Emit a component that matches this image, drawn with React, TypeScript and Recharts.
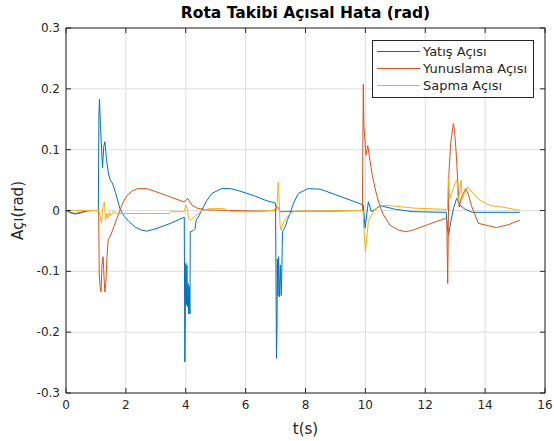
import React from 'react'
import {
  CartesianGrid,
  Legend,
  Line,
  LineChart,
  ReferenceArea,
  XAxis,
  YAxis,
} from 'recharts'

const xTicks = [0, 2, 4, 6, 8, 10, 12, 14, 16]
const yTicks = [-0.3, -0.2, -0.1, 0, 0.1, 0.2, 0.3]
const seriesNames = ['Yatış Açısı', 'Yunuslama Açısı', 'Sapma Açısı']
const seriesColors = ['#0072BD', '#D95319', '#EDB120']

// Yatış açısı (roll)
const tYatis = [
  0, 0.15, 0.3, 0.5, 0.7, 1.08, 1.1, 1.12, 1.15, 1.19, 1.22, 1.26, 1.3, 1.35,
  1.42, 1.48, 1.55, 1.65, 1.8, 1.95, 2.1, 2.3, 2.5, 2.7, 3.0, 3.5, 3.95, 3.97,
  4.0, 4.02, 4.04, 4.06, 4.08, 4.1, 4.12, 4.14, 4.15, 4.25, 4.31, 4.35, 4.45,
  4.53, 4.7, 4.87, 5.2, 5.5, 5.8, 6.3, 6.65, 7.0, 7.03, 7.05, 7.06, 7.08, 7.1,
  7.13, 7.16, 7.19, 7.21, 7.23, 7.32, 7.4, 7.48, 7.6, 7.76, 8.08, 8.5, 9.0,
  9.5, 9.93, 9.99, 10.1, 10.2, 10.3, 10.49, 11.0, 11.6, 12.7, 12.74, 12.78,
  12.85, 12.95, 13.05, 13.16, 13.3, 13.57, 14.2, 15.16,
]
const yatis = [
  0, -0.003, -0.005, -0.003, 0, 0, 0.16, 0.183, 0.14, 0.1, 0.07, 0.105, 0.113,
  0.085, 0.06, 0.05, 0.045, 0.03, 0.003, -0.01, -0.018, -0.027, -0.032, -0.034,
  -0.03, -0.021, -0.011, -0.249, -0.087, -0.155, -0.09, -0.158, -0.12, -0.17,
  -0.125, -0.17, -0.035, -0.033, -0.03, -0.016, -0.008, 0, 0.016, 0.028, 0.036,
  0.036, 0.032, 0.024, 0.017, 0.012, -0.243, -0.19, -0.08, -0.14, -0.076,
  -0.142, -0.09, -0.14, -0.1, -0.035, -0.027, -0.015, -0.005, 0.012, 0.028,
  0.036, 0.035, 0.026, 0.017, 0.009, -0.029, 0.0145, -0.002, 0.001, 0.008,
  0.002, -0.002, -0.003, -0.029, -0.04, -0.02, 0.005, 0.02, 0.009, 0.003,
  -0.003, -0.003, -0.003,
]

// Yunuslama açısı (pitch)
const tYunuslama = [
  0, 0.15, 0.3, 0.5, 0.7, 0.9, 1.09, 1.11, 1.14, 1.17, 1.2, 1.24, 1.27, 1.3,
  1.33, 1.37, 1.41, 1.5, 1.58, 1.7, 1.8, 1.9, 2.03, 2.2, 2.4, 2.7, 3.0, 3.5,
  3.92, 4.0, 4.06, 4.12, 4.2, 4.37, 4.7, 5.5, 6.5, 7.0, 7.04, 7.1, 7.15, 8.0,
  9.0, 9.9, 9.93, 9.95, 10.02, 10.08, 10.13, 10.23, 10.35, 10.47, 10.6, 10.82,
  11.1, 11.35, 11.6, 12.1, 12.66, 12.72, 12.75, 12.79, 12.85, 12.94, 12.98,
  13.04, 13.13, 13.2, 13.35, 13.45, 13.55, 13.77, 14.1, 14.38, 14.8, 15.16,
]
const yunuslama = [
  0, -0.004, -0.006, -0.004, -0.001, 0, 0, -0.103, -0.125, -0.134, -0.09,
  -0.076, -0.11, -0.134, -0.12, -0.076, -0.048, -0.04, -0.029, -0.013, 0,
  0.013, 0.024, 0.032, 0.036, 0.036, 0.031, 0.022, 0.0145, 0.016, 0.02, 0.016,
  0.009, 0.004, 0.001, 0, -0.001, 0, 0.007, 0.004, -0.002, -0.001, -0.001, 0,
  0.2075, 0.14, 0.091, 0.107, 0.09, 0.058, 0.031, 0.009, -0.007, -0.024,
  -0.032, -0.035, -0.032, -0.023, -0.013, -0.016, -0.12, 0.061, 0.11, 0.143,
  0.13, 0.09, 0.006, 0.02, 0.036, 0.025, 0.007, -0.021, -0.025, -0.028,
  -0.023, -0.016,
]

// Sapma açısı (yaw)
const tSapma = [
  0, 1.1, 1.14, 1.19, 1.23, 1.28, 1.32, 1.36, 1.4, 1.45, 1.5, 1.6, 1.7, 2.0,
  3.45, 3.5, 3.95, 4.0, 4.05, 4.1, 4.14, 4.25, 4.4, 4.55, 4.8, 5.3, 5.4, 5.5,
  6.5, 6.6, 6.95, 7.05, 7.09, 7.12, 7.15, 7.18, 7.23, 7.3, 7.4, 7.54, 7.7, 8.5,
  9.0, 9.92, 9.95, 10.0, 10.04, 10.1, 10.26, 10.4, 10.54, 10.8, 11.0, 11.6,
  12.6, 12.74, 12.77, 12.82, 12.9, 13.0, 13.06, 13.1, 13.15, 13.2, 13.24,
  13.32, 13.42, 13.6, 13.77, 14.0, 14.2, 14.66, 15.16,
]
const sapma = [
  0, 0, -0.01, -0.021, 0.005, 0.014, -0.016, -0.005, -0.012, -0.002, -0.008,
  -0.002, -0.005, -0.005, -0.005, -0.002, -0.002, 0.009, 0.003, -0.014, -0.016,
  -0.012, -0.006, 0, 0.003, 0.003, 0, -0.002, -0.002, 0, 0, 0.01, 0.047, 0.02,
  -0.024, -0.032, -0.024, -0.016, -0.01, -0.003, -0.001, -0.001, 0, 0, -0.03,
  -0.068, -0.05, -0.018, -0.002, 0.004, 0.008, 0.008, 0.007, 0.004, 0.002,
  0.002, 0.053, 0.02, 0.03, 0.045, 0.05, 0.015, 0.03, 0.05, 0.018, 0.03, 0.039,
  0.028, 0.019, 0.012, 0.008, 0.005, 0,
]

const toPoints = (t: number[], v: number[]) =>
  t.map((x, i) => ({ t: x, v: v[i] }))

const series = [
  toPoints(tYatis, yatis),
  toPoints(tYunuslama, yunuslama),
  toPoints(tSapma, sapma),
]

const AXIS = '#262626'
const FONT = '"DejaVu Sans", sans-serif'
const TICK_LEN = 5
const PLOT_TOP = 28
const PLOT_RIGHT = 545

function XTick({ x, y, payload }: any) {
  return (
    <g>
      <line x1={x} x2={x} y1={y} y2={y - TICK_LEN} stroke={AXIS} />
      <line x1={x} x2={x} y1={PLOT_TOP} y2={PLOT_TOP + TICK_LEN} stroke={AXIS} />
      <text x={x} y={y + 16} textAnchor='middle' fill={AXIS} fontSize={12}>
        {payload.value}
      </text>
    </g>
  )
}

function YTick({ x, y, payload }: any) {
  return (
    <g>
      <line x1={x} x2={x + TICK_LEN} y1={y} y2={y} stroke={AXIS} />
      <line x1={PLOT_RIGHT} x2={PLOT_RIGHT - TICK_LEN} y1={y} y2={y} stroke={AXIS} />
      <text x={x - 6} y={y + 4} textAnchor='end' fill={AXIS} fontSize={12}>
        {payload.value}
      </text>
    </g>
  )
}

function YLabel({ viewBox }: any) {
  const cx = 18
  const cy = viewBox.y + viewBox.height / 2
  return (
    <text
      x={cx}
      y={cy}
      transform={`rotate(-90 ${cx} ${cy})`}
      textAnchor='middle'
      dominantBaseline='central'
      fill={AXIS}
      fontSize={15}
    >
      Açı(rad)
    </text>
  )
}

function LegendBox() {
  return (
    <div
      style={{
        border: `1px solid ${AXIS}`,
        background: '#fff',
        padding: '2px 4px 3px 4px',
        fontSize: 13,
        color: AXIS,
        lineHeight: '17px',
        whiteSpace: 'nowrap',
        boxSizing: 'border-box',
        width: 162,
      }}
    >
      {seriesNames.map((name, i) => (
        <div key={name} style={{ display: 'flex', alignItems: 'center' }}>
          <div
            style={{
              width: 43,
              height: 1,
              background: seriesColors[i],
              marginRight: 3,
              flexShrink: 0,
            }}
          />
          <span>{name}</span>
        </div>
      ))}
    </div>
  )
}

export default function App() {
  return (
    <div
      style={{
        position: 'absolute',
        left: 0,
        top: 0,
        width: 554,
        height: 441,
        background: '#fff',
        fontFamily: FONT,
      }}
    >
      <div
        style={{
          position: 'absolute',
          left: 66,
          width: 479,
          top: 3,
          textAlign: 'center',
          fontWeight: 'bold',
          fontSize: 15.5,
          color: '#000',
          lineHeight: '20px',
        }}
      >
        Rota Takibi Açısal Hata (rad)
      </div>
      <LineChart
        width={554}
        height={441}
        margin={{ top: 28, right: 9, bottom: 0, left: 0 }}
      >
        <CartesianGrid stroke='#dfdfdf' />
        <XAxis
          type='number'
          dataKey='t'
          domain={[0, 16]}
          ticks={xTicks}
          allowDataOverflow
          height={48}
          axisLine={false}
          tickSize={0}
          tickMargin={0}
          tick={<XTick />}
          label={{
            value: 't(s)',
            position: 'insideBottom',
            offset: 7,
            fontSize: 15,
            fill: AXIS,
          }}
        />
        <YAxis
          type='number'
          domain={[-0.3, 0.3]}
          ticks={yTicks}
          allowDataOverflow
          width={66}
          axisLine={false}
          tickSize={0}
          tickMargin={0}
          tick={<YTick />}
          label={{ content: <YLabel /> }}
        />
        <ReferenceArea
          x1={0}
          x2={16}
          y1={-0.3}
          y2={0.3}
          fill='none'
          stroke={AXIS}
          strokeOpacity={1}
          fillOpacity={0}
        />
        {series.map((data, i) => (
          <Line
            key={seriesNames[i]}
            data={data}
            dataKey='v'
            name={seriesNames[i]}
            type='linear'
            stroke={seriesColors[i]}
            strokeWidth={1}
            dot={false}
            activeDot={false}
            isAnimationActive={false}
          />
        ))}
        <Legend
          layout='horizontal'
          align='center'
          verticalAlign='middle'
          content={<LegendBox />}
          wrapperStyle={{ left: 372, top: 40, width: 162 }}
        />
      </LineChart>
    </div>
  )
}
